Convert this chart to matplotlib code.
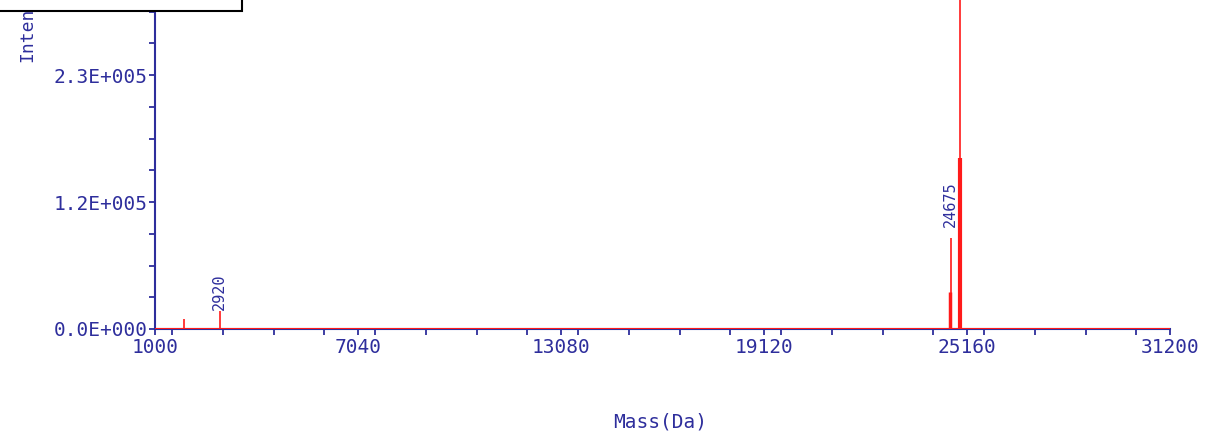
import matplotlib
matplotlib.use("Agg")
import matplotlib.pyplot as plt
from matplotlib.patches import Rectangle
from matplotlib.ticker import FixedLocator, MultipleLocator


# peak list (mass in Da, intensity in counts)
peak_mass = [1870, 2920, 24640, 24675, 24945, 24955]
peak_intensity = [9000, 16300, 33500, 82400, 155000, 600000]
peak_width = [1.2, 1.2, 2.5, 1.2, 3.0, 1.2]

label_mass = [2920, 24675]
label_text = ["2920", "24675"]

xtick_values = [1000, 7040, 13080, 19120, 25160, 31200]
ytick_values = [0, 115000, 230000]
ytick_labels = ["0.0E+000", "1.2E+005", "2.3E+005"]

NAVY = "#2e2e9c"
RED = "#ff1a1a"
FONT = "DejaVu Sans Mono"

W, H = 1210, 432
fig = plt.figure(figsize=(W / 100, H / 100), dpi=100)
fig.patch.set_facecolor("white")

# axes top runs off the top of the image (the original screenshot is cropped)
left, right, zero_y = 155, 1170, 329
ymax = 345000
px_per_unit = 127 / 115000
ax_h = ymax * px_per_unit
ax = fig.add_axes([left / W, (H - zero_y) / H, (right - left) / W, ax_h / H])
ax.set_xlim(1000, 31200)
ax.set_ylim(0, ymax)

# spectrum baseline + sticks
ax.axhline(0, color=RED, lw=2.2, zorder=3)
for m, inten, lw in zip(peak_mass, peak_intensity, peak_width):
    ax.vlines(m, 0, inten, color=RED, lw=lw, zorder=3)

label_offsets = [1, 11]  # px gap between stick top and label
for m, txt, off in zip(label_mass, label_text, label_offsets):
    top = peak_intensity[peak_mass.index(m)]
    ax.annotate(txt, (m, top), xytext=(0, off), textcoords="offset pixels",
                rotation=90, ha="center", va="bottom", color=NAVY,
                fontsize=11, family=FONT)

for s in ["top", "right"]:
    ax.spines[s].set_visible(False)
for s in ["left", "bottom"]:
    ax.spines[s].set_color(NAVY)
    ax.spines[s].set_linewidth(1.5)

ax.xaxis.set_major_locator(FixedLocator(xtick_values))
ax.xaxis.set_minor_locator(MultipleLocator(1510))
ax.set_xticklabels([str(v) for v in xtick_values])
ax.yaxis.set_major_locator(FixedLocator(ytick_values))
ax.yaxis.set_minor_locator(MultipleLocator(28750))
ax.set_yticklabels(ytick_labels)

ax.tick_params(which="both", direction="out", length=4.5, width=1.3, colors=NAVY)
ax.tick_params(axis="x", which="major", pad=2, labelsize=14)
ax.tick_params(axis="y", which="major", pad=1, labelsize=14)
for lab in ax.get_xticklabels() + ax.get_yticklabels():
    lab.set_family(FONT)

fig.text(660 / W, 1 - 422 / H, "Mass(Da)", ha="center", va="center",
         color=NAVY, fontsize=14, family=FONT)
fig.text(27 / W, 1 - 62 / H, "Intensity", rotation=90, ha="center", va="bottom",
         color=NAVY, fontsize=13, family=FONT)

# legend box, mostly cut off at the top
fig.patches.append(Rectangle((-5 / W, 1 - 11 / H), 247 / W, 0.3,
                             transform=fig.transFigure, facecolor="white",
                             edgecolor="black", lw=1.5, zorder=10))

fig.savefig("out.png", dpi=100)
